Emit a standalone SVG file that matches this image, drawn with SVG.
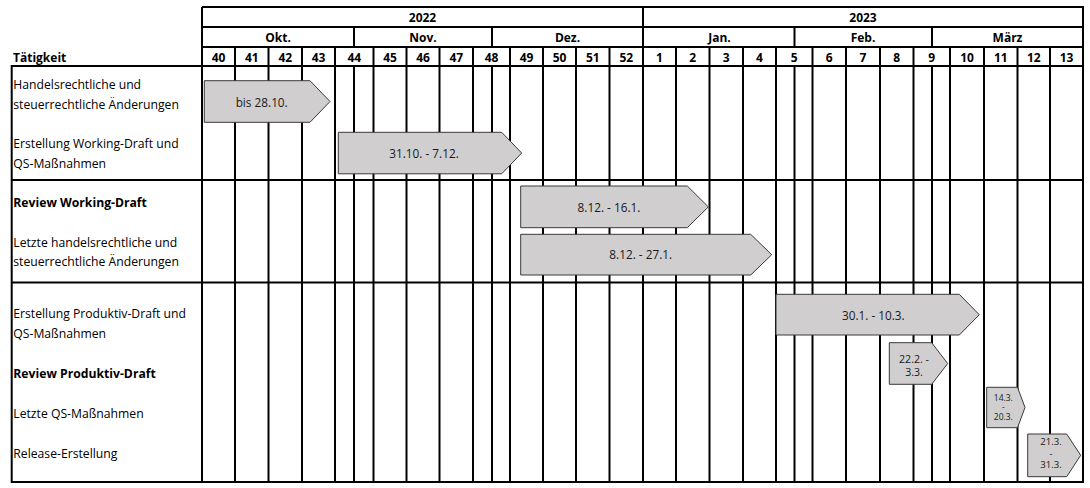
<svg xmlns="http://www.w3.org/2000/svg" width="1090" height="488" viewBox="0 0 1090 488">
<style>
.ln{stroke:#000;stroke-width:2;fill:none}
.hd{font-family:"Open Sans","Noto Sans","DejaVu Sans",sans-serif;font-weight:bold;font-size:12px;fill:#000;text-anchor:middle}
.lb{font-family:"Open Sans","Noto Sans","DejaVu Sans",sans-serif;font-size:12.2px;fill:#000}
.lbb{font-weight:bold}
.bar{fill:#d0cece;stroke:#3a3a3a;stroke-width:1}
.bt{font-family:"Open Sans","Noto Sans","DejaVu Sans",sans-serif;font-size:11.8px;fill:#1a1a1a;text-anchor:middle}
</style>
<rect width="1090" height="488" fill="#fff"/>
<g id="grid">
<path class="ln" d="M202,7H1083V482H11.7V66H1083M202,7V482M11.7,180H1083M11.7,282.5H1083M202,27H1083M202,47H1083"/>
<path class="ln" d="M643,7V482"/>
<path class="ln" d="M354,27V47M492,27V47M794.5,27V47M932,27V47M354,66V482M492,66V482M794.5,66V482M932,66V482"/>
<path class="ln" d="M235,47V482M268.5,47V482M302,47V482M335,47V482M373.5,47V482M406.5,47V482M439.5,47V482M473,47V482M510,47V482M543,47V482M576,47V482M609.5,47V482M676,47V482M709.5,47V482M743,47V482M776,47V482M812.5,47V482M846,47V482M880,47V482M913.5,47V482M950,47V482M984,47V482M1017.5,47V482M1050,47V482"/>
</g>
<g id="header">
<text class="hd" x="422.5" y="21.7">2022</text>
<text class="hd" x="863" y="21.7">2023</text>
<text class="hd" x="278" y="41.7">Okt.</text>
<text class="hd" x="423" y="41.7">Nov.</text>
<text class="hd" x="567.5" y="41.7">Dez.</text>
<text class="hd" x="719.5" y="41.7">Jan.</text>
<text class="hd" x="863" y="41.7">Feb.</text>
<text class="hd" x="1007.5" y="41.7">März</text>
<text class="hd" x="13" y="61.5" style="text-anchor:start">Tätigkeit</text>
<text class="hd" x="218.5" y="61.5">40</text>
<text class="hd" x="251.75" y="61.5">41</text>
<text class="hd" x="285.25" y="61.5">42</text>
<text class="hd" x="318.5" y="61.5">43</text>
<text class="hd" x="354.25" y="61.5">44</text>
<text class="hd" x="390" y="61.5">45</text>
<text class="hd" x="423" y="61.5">46</text>
<text class="hd" x="456.25" y="61.5">47</text>
<text class="hd" x="491.5" y="61.5">48</text>
<text class="hd" x="526.5" y="61.5">49</text>
<text class="hd" x="559.5" y="61.5">50</text>
<text class="hd" x="592.75" y="61.5">51</text>
<text class="hd" x="626.25" y="61.5">52</text>
<text class="hd" x="659.5" y="61.5">1</text>
<text class="hd" x="692.75" y="61.5">2</text>
<text class="hd" x="726.25" y="61.5">3</text>
<text class="hd" x="759.5" y="61.5">4</text>
<text class="hd" x="794.25" y="61.5">5</text>
<text class="hd" x="829.25" y="61.5">6</text>
<text class="hd" x="863" y="61.5">7</text>
<text class="hd" x="896.75" y="61.5">8</text>
<text class="hd" x="931.75" y="61.5">9</text>
<text class="hd" x="967" y="61.5">10</text>
<text class="hd" x="1000.75" y="61.5">11</text>
<text class="hd" x="1033.75" y="61.5">12</text>
<text class="hd" x="1066.5" y="61.5">13</text>
</g>
<g id="task1">
<text class="lb" x="13.3" y="89.3">Handelsrechtliche und</text>
<text class="lb" x="13.3" y="109.3">steuerrechtliche Änderungen</text>
<polygon class="bar" points="204.3,80.7 310,80.7 330,101.5 310,122.3 204.3,122.3"/>
<text class="bt" x="261.7" y="107">bis 28.10.</text>
</g>
<g id="task2">
<text class="lb" x="13.3" y="147.6">Erstellung Working-Draft und</text>
<text class="lb" x="13.3" y="167.6">QS-Maßnahmen</text>
<polygon class="bar" points="338.3,132.3 501.7,132.3 521.7,153 501.7,173.8 338.3,173.8"/>
<text class="bt" x="424" y="157.6">31.10. - 7.12.</text>
</g>
<g id="task3">
<text class="lb lbb" x="13.3" y="207">Review Working-Draft</text>
<polygon class="bar" points="520.7,186 687.3,186 708.3,206.9 687.3,227.7 520.7,227.7"/>
<text class="bt" x="609" y="212">8.12. - 16.1.</text>
</g>
<g id="task4">
<text class="lb" x="13.3" y="247">Letzte handelsrechtliche und</text>
<text class="lb" x="13.3" y="266">steuerrechtliche Änderungen</text>
<polygon class="bar" points="520.7,234.3 750.7,234.3 771.7,254.7 750.7,275 520.7,275"/>
<text class="bt" x="640.7" y="259.3">8.12. - 27.1.</text>
</g>
<g id="task5">
<text class="lb" x="13.3" y="317.6">Erstellung Produktiv-Draft und</text>
<text class="lb" x="13.3" y="337.6">QS-Maßnahmen</text>
<polygon class="bar" points="776,294.3 959.3,294.3 979.3,314.7 959.3,335 776,335"/>
<text class="bt" x="873.3" y="320">30.1. - 10.3.</text>
</g>
<g id="task6">
<text class="lb lbb" x="13.3" y="377.6">Review Produktiv-Draft</text>
<polygon class="bar" points="889.3,342.7 931.7,342.7 947.7,363.5 931.7,384.3 889.3,384.3"/>
<text class="bt" x="914" y="363" style="font-size:10.6px">22.2. -<tspan x="914" dy="13.3">3.3.</tspan></text>
</g>
<g id="task7">
<text class="lb" x="13.3" y="418.3">Letzte QS-Maßnahmen</text>
<polygon class="bar" points="986.7,387.3 1017.5,387.3 1025,407.5 1017.5,427.7 986.7,427.7"/>
<text class="bt" x="1003.3" y="400.5" style="font-size:8.5px">14.3.<tspan x="1003.3" dy="9.5">-</tspan><tspan x="1003.3" dy="9.5">20.3.</tspan></text>
</g>
<g id="task8">
<text class="lb" x="13.3" y="457.6">Release-Erstellung</text>
<polygon class="bar" points="1027.7,434 1066.7,434 1080.7,455.3 1066.7,476.7 1027.7,476.7"/>
<text class="bt" x="1051" y="445" style="font-size:9.6px">21.3.<tspan x="1051" dy="11.5">-</tspan><tspan x="1051" dy="11.5">31.3.</tspan></text>
</g>
</svg>
